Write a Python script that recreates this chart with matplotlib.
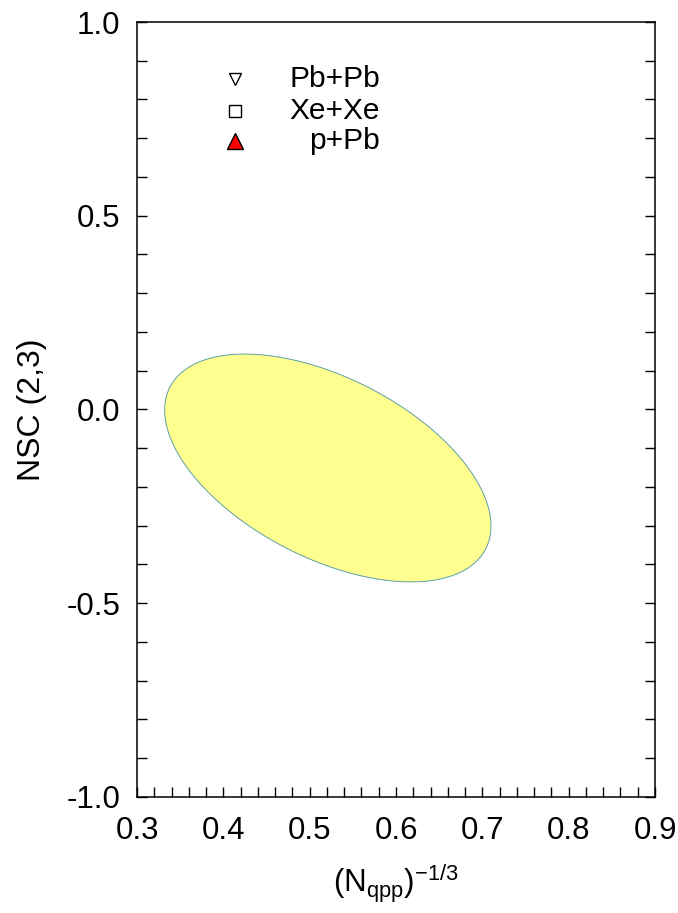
import numpy as np
import matplotlib
matplotlib.use("Agg")
import matplotlib.pyplot as plt
from matplotlib.ticker import MultipleLocator

plt.rcParams['font.family'] = ['Liberation Sans', 'DejaVu Sans']
plt.rcParams['mathtext.fontset'] = 'custom'
plt.rcParams['mathtext.rm'] = 'Liberation Sans'
plt.rcParams['mathtext.it'] = 'Liberation Sans:italic'

# Data
ellipse_center_x = 0.521
ellipse_center_y = -0.151
ellipse_half_x = 0.189
ellipse_half_y = 0.294
ellipse_corr = -0.509

legend_labels = ["Pb+Pb", "Xe+Xe", "p+Pb"]
legend_markers = ["v", "s", "^"]
legend_facecolors = ["white", "white", "red"]
legend_sizes = [8, 8, 12]

x_ticks = [0.3, 0.4, 0.5, 0.6, 0.7, 0.8, 0.9]
y_ticks = [-1.0, -0.5, 0.0, 0.5, 1.0]

fig = plt.figure(figsize=(6.78, 9.13), dpi=100)
ax = fig.add_axes([0.2021, 0.1271, 0.7640, 0.8488])

t = np.linspace(0, 2 * np.pi, 400)
ex = ellipse_center_x + ellipse_half_x * np.cos(t)
ey = ellipse_center_y + ellipse_half_y * (ellipse_corr * np.cos(t)
                                         + np.sqrt(1 - ellipse_corr ** 2) * np.sin(t))
ax.fill(ex, ey, facecolor='#FFFF8F', edgecolor='#5E9FA8', linewidth=0.7, zorder=2)

ax.set_xlim(0.3, 0.9)
ax.set_ylim(-1.0, 1.0)
ax.set_xticks(x_ticks)
ax.set_yticks(y_ticks)
ax.set_xticklabels([f"{v:.1f}" for v in x_ticks])
ax.set_yticklabels([f"{v:.1f}" for v in y_ticks])
ax.xaxis.set_minor_locator(MultipleLocator(0.02))
ax.yaxis.set_minor_locator(MultipleLocator(0.1))
ax.tick_params(axis='both', which='both', direction='in', length=7.5, width=1.0,
               labelsize=22.5, top=False, right=True)
ax.tick_params(axis='x', which='both', pad=13.5)
ax.tick_params(axis='y', which='both', pad=12)
for s in ax.spines.values():
    s.set_linewidth(1.1)

ax.set_xlabel(r'$(\mathrm{N}_{\mathrm{qpp}})^{\mathrm{-1/3}}$', fontsize=22.5, labelpad=12)
ax.set_ylabel('NSC (2,3)', fontsize=23, labelpad=14)

ys = [0.9265, 0.885, 0.8465]
for lab, m, fc, ms, yy in zip(legend_labels, legend_markers, legend_facecolors, legend_sizes, ys):
    ax.plot([0.189], [yy], marker=m, markersize=ms, markerfacecolor=fc,
            markeredgecolor='black', markeredgewidth=1.0, linestyle='none',
            transform=ax.transAxes, clip_on=False)
    ax.text(0.469, yy, lab, transform=ax.transAxes, ha='right', va='center', fontsize=21.5)

fig.savefig('out.png', dpi=100)
